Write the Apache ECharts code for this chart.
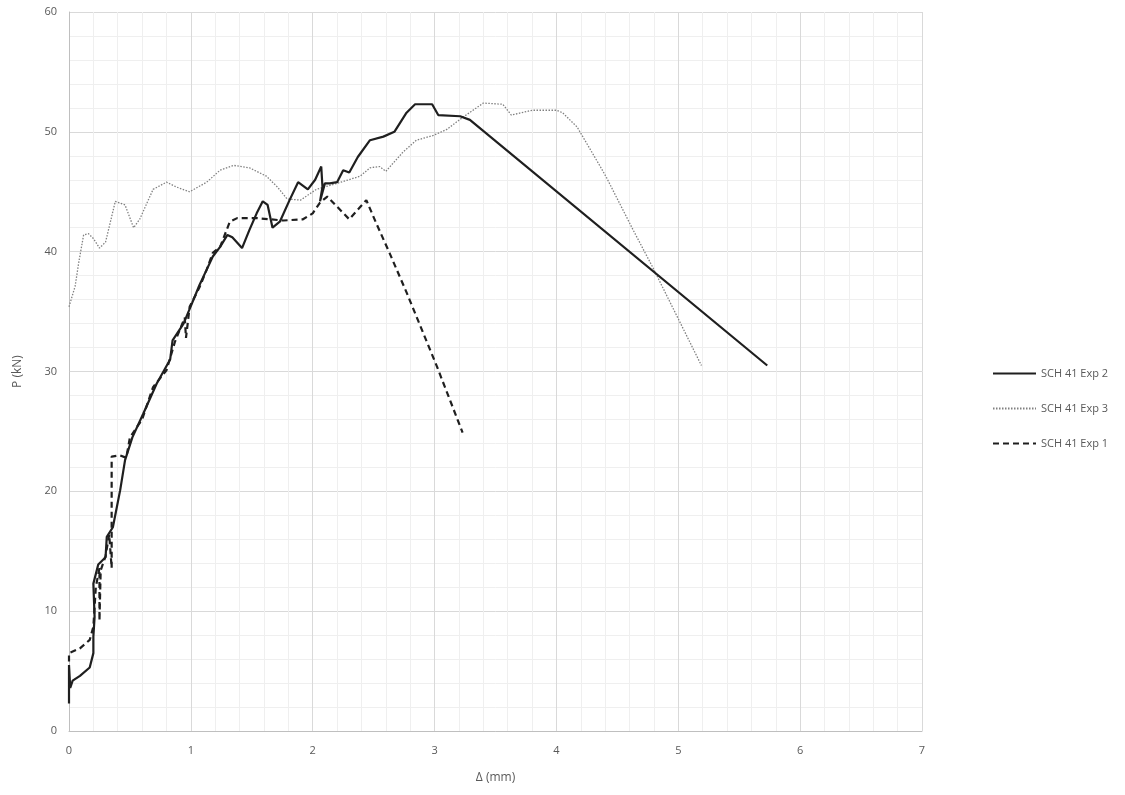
<!DOCTYPE html>
<html>
<head>
<meta charset="utf-8">
<script src="https://cdn.jsdelivr.net/npm/echarts@6/dist/echarts.min.js"></script>
<style>
  html, body { margin: 0; padding: 0; background: #fff; }
  #chart { width: 1125px; height: 795px; }
</style>
</head>
<body>
<div id="chart"></div>
<script>
// Load–displacement curves, SCH 41 specimens
const seriesNames = ['SCH 41 Exp 2', 'SCH 41 Exp 3', 'SCH 41 Exp 1'];

const exp2X = [0, 0.0, 0.01, 0.03, 0.09, 0.17, 0.2, 0.2, 0.21, 0.2, 0.24, 0.3, 0.31, 0.36, 0.42, 0.46, 0.52, 0.61, 0.72, 0.83, 0.85, 0.94, 1.01, 1.07, 1.13, 1.18, 1.24, 1.3, 1.34, 1.42, 1.48, 1.54, 1.59, 1.63, 1.67, 1.73, 1.81, 1.88, 1.96, 2.02, 2.07, 2.08, 2.06, 2.1, 2.14, 2.2, 2.25, 2.3, 2.37, 2.47, 2.58, 2.67, 2.77, 2.84, 2.98, 3.03, 3.21, 3.29, 5.73];
const exp2Y = [2.3, 5.5, 3.6, 4.2, 4.6, 5.3, 6.5, 7.9, 9.5, 12.3, 13.9, 14.5, 16.2, 17.0, 20.1, 22.6, 24.5, 26.5, 29.0, 31.0, 32.6, 34.0, 35.7, 37.2, 38.5, 39.6, 40.4, 41.4, 41.2, 40.3, 41.8, 43.2, 44.2, 43.9, 42.0, 42.5, 44.3, 45.8, 45.2, 46.0, 47.1, 45.4, 44.2, 45.7, 45.7, 45.8, 46.8, 46.6, 47.9, 49.3, 49.6, 50.0, 51.6, 52.3, 52.3, 51.4, 51.3, 51.0, 30.5];

const exp3X = [0, 0.05, 0.08, 0.12, 0.16, 0.2, 0.25, 0.3, 0.38, 0.46, 0.53, 0.58, 0.69, 0.8, 0.88, 0.99, 1.13, 1.24, 1.35, 1.48, 1.62, 1.71, 1.79, 1.9, 2.03, 2.2, 2.39, 2.47, 2.55, 2.6, 2.74, 2.85, 2.99, 3.1, 3.23, 3.4, 3.56, 3.63, 3.8, 4.0, 4.05, 4.17, 4.36, 4.41, 4.63, 4.79, 4.99, 5.19];
const exp3Y = [35.4, 37.1, 39.1, 41.4, 41.5, 41.1, 40.3, 40.8, 44.2, 43.9, 42.0, 42.7, 45.2, 45.8, 45.4, 45.0, 45.8, 46.8, 47.2, 47.0, 46.3, 45.4, 44.4, 44.3, 45.2, 45.7, 46.3, 47.0, 47.1, 46.7, 48.3, 49.3, 49.7, 50.2, 51.2, 52.4, 52.3, 51.4, 51.8, 51.8, 51.6, 50.4, 47.1, 46.2, 41.8, 38.7, 34.6, 30.5];

const exp1X = [0, 0, 0.09, 0.17, 0.2, 0.22, 0.25, 0.25, 0.26, 0.3, 0.33, 0.35, 0.35, 0.42, 0.47, 0.5, 0.6, 0.69, 0.8, 0.87, 0.95, 0.96, 0.99, 1.07, 1.13, 1.18, 1.24, 1.32, 1.38, 1.54, 1.76, 1.92, 2.0, 2.06, 2.12, 2.3, 2.44, 2.52, 2.63, 2.77, 3.02, 3.23];
const exp1Y = [5.8, 6.5, 6.9, 7.6, 8.7, 12.0, 13.6, 9.2, 13.4, 14.6, 16.4, 13.6, 22.9, 23.0, 22.8, 24.5, 26.0, 28.7, 30.1, 32.5, 34.5, 32.8, 35.4, 37.0, 38.5, 39.9, 40.4, 42.5, 42.8, 42.8, 42.6, 42.7, 43.2, 44.1, 44.6, 42.7, 44.3, 42.4, 39.9, 36.6, 30.4, 24.9];

const zip = (xs, ys) => xs.map((x, i) => [x, ys[i]]);

const labelColor = '#595959';
const fontFamily = '"Open Sans", "Liberation Sans", sans-serif';

const chart = echarts.init(document.getElementById('chart'), null, { renderer: 'canvas' });

chart.setOption({
  animation: false,
  backgroundColor: '#ffffff',
  textStyle: { fontFamily: fontFamily },
  grid: { left: 69, right: 203, top: 12, bottom: 64, containLabel: false },
  legend: {
    orient: 'vertical',
    left: 987,
    top: 363,
    itemWidth: 43,
    itemHeight: 10,
    itemGap: 24,
    data: seriesNames,
    itemStyle: { opacity: 0 },
    textStyle: { color: labelColor, fontSize: 11, fontFamily: fontFamily }
  },
  xAxis: {
    type: 'value',
    min: 0, max: 7, interval: 1,
    name: 'Δ (mm)',
    nameLocation: 'middle',
    nameGap: 41,
    nameTextStyle: { color: labelColor, fontSize: 12 },
    axisLine: { show: true, lineStyle: { color: '#bfbfbf', width: 1 } },
    axisTick: { show: false },
    axisLabel: { color: labelColor, fontSize: 11, margin: 14 },
    splitLine: { show: true, lineStyle: { color: '#d9d9d9', width: 1 } },
    minorTick: { show: false, splitNumber: 5 },
    minorSplitLine: { show: true, lineStyle: { color: '#efefef', width: 1 } }
  },
  yAxis: {
    type: 'value',
    min: 0, max: 60, interval: 10,
    name: 'P (kN)',
    nameLocation: 'middle',
    nameGap: 45,
    nameRotate: 90,
    nameTextStyle: { color: labelColor, fontSize: 12 },
    axisLine: { show: true, lineStyle: { color: '#bfbfbf', width: 1 } },
    axisTick: { show: false },
    axisLabel: { color: labelColor, fontSize: 11, margin: 12 },
    splitLine: { show: true, lineStyle: { color: '#d9d9d9', width: 1 } },
    minorTick: { show: false, splitNumber: 5 },
    minorSplitLine: { show: true, lineStyle: { color: '#efefef', width: 1 } }
  },
  series: [
    {
      name: seriesNames[0], type: 'line', symbol: 'none', z: 3,
      data: zip(exp2X, exp2Y),
      lineStyle: { color: '#1f1f1f', width: 2.2, type: 'solid' },
      itemStyle: { color: '#1f1f1f' }
    },
    {
      name: seriesNames[1], type: 'line', symbol: 'none', z: 2,
      data: zip(exp3X, exp3Y),
      lineStyle: { color: '#808080', width: 1.3, type: [1.5, 1.5] },
      itemStyle: { color: '#808080' }
    },
    {
      name: seriesNames[2], type: 'line', symbol: 'none', z: 4,
      data: zip(exp1X, exp1Y),
      lineStyle: { color: '#1f1f1f', width: 2.2, type: [6, 4] },
      itemStyle: { color: '#1f1f1f' }
    }
  ]
});
</script>
</body>
</html>
